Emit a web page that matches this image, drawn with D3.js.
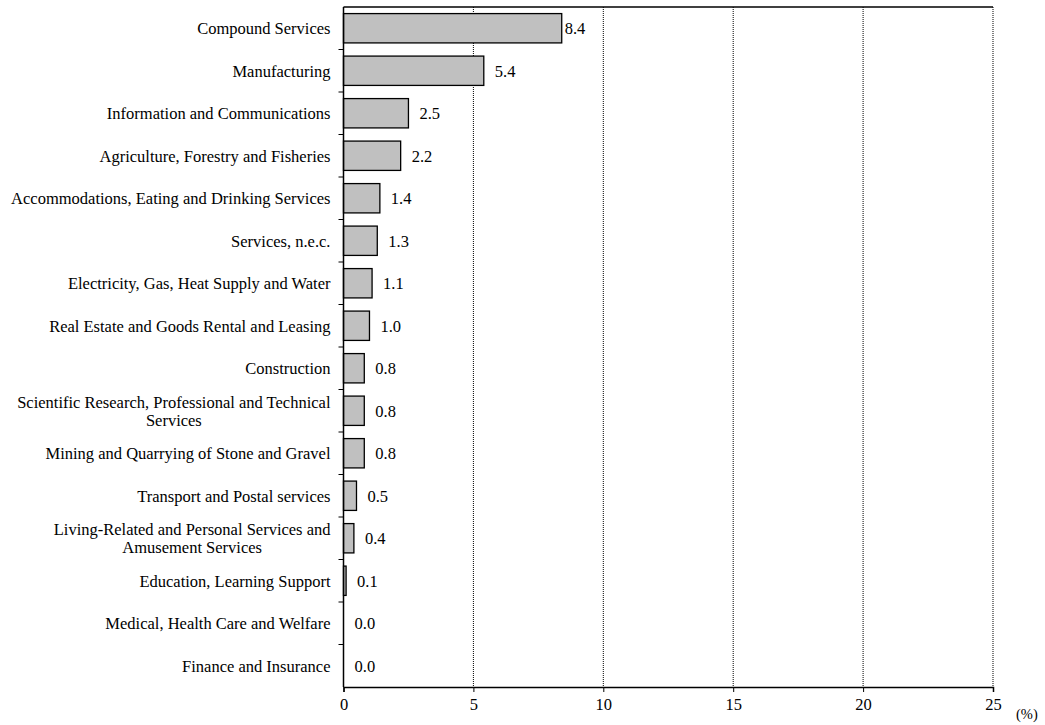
<!DOCTYPE html>
<html>
<head>
<meta charset="utf-8">
<script src="https://cdn.jsdelivr.net/npm/d3@7"></script>
<style>
  body { margin: 0; background: #fff; }
  svg text { font-family: "Liberation Serif", "Times New Roman", serif; fill: #000; }
</style>
</head>
<body>
<script>
// categories top to bottom
var categories = [
  "Compound Services",
  "Manufacturing",
  "Information and Communications",
  "Agriculture, Forestry and Fisheries",
  "Accommodations, Eating and Drinking Services",
  "Services, n.e.c.",
  "Electricity, Gas, Heat Supply and Water",
  "Real Estate and Goods Rental and Leasing",
  "Construction",
  "Scientific Research, Professional and Technical|Services",
  "Mining and Quarrying of Stone and Gravel",
  "Transport and Postal services",
  "Living-Related and Personal Services and|Amusement Services",
  "Education, Learning Support",
  "Medical, Health Care and Welfare",
  "Finance and Insurance"
];
var values = [8.4, 5.4, 2.5, 2.2, 1.4, 1.3, 1.1, 1.0, 0.8, 0.8, 0.8, 0.5, 0.4, 0.1, 0.0, 0.0];
var xTicks = [0, 5, 10, 15, 20, 25];

var width = 1045, height = 725;
var margin = {top: 7, right: 52, bottom: 38, left: 343.5};
var innerW = width - margin.left - margin.right,
    innerH = height - margin.top - margin.bottom;
var fs = "16.5px";

var data = categories.map(function(c, i) { return {name: c, value: values[i]}; });

var svg = d3.select("body").append("svg")
    .attr("width", width)
    .attr("height", height);

var g = svg.append("g")
    .attr("transform", "translate(" + margin.left + "," + margin.top + ")");

var x = d3.scaleLinear().domain([0, 25]).range([0, innerW]);
var y = d3.scaleBand().domain(categories).range([0, innerH]).paddingInner(0.31).paddingOuter(0.155);

// dotted gridlines
g.selectAll(".grid")
    .data(xTicks.slice(1))
    .enter().append("line")
    .attr("class", "grid")
    .attr("x1", function(d) { return x(d); })
    .attr("x2", function(d) { return x(d); })
    .attr("y1", 0)
    .attr("y2", innerH)
    .style("stroke", "#000")
    .style("stroke-width", 1)
    .style("stroke-dasharray", "1,1");

// top border
g.append("line")
    .attr("x1", 0).attr("x2", innerW)
    .attr("y1", 0).attr("y2", 0)
    .style("stroke", "#000").style("stroke-width", 1.5);

// bars
g.selectAll(".bar")
    .data(data)
    .enter().append("rect")
    .attr("class", "bar")
    .attr("x", 0)
    .attr("y", function(d) { return y(d.name); })
    .attr("width", function(d) { return x(d.value); })
    .attr("height", y.bandwidth())
    .style("fill", "#c0c0c0")
    .style("stroke", function(d) { return d.value > 0 ? "#000" : "none"; })
    .style("stroke-width", 1.3);

// value labels
g.selectAll(".val")
    .data(data)
    .enter().append("text")
    .attr("class", "val")
    .attr("x", function(d) { return x(d.value) + (d.value > 6 ? 3 : 11); })
    .attr("y", function(d) { return y(d.name) + y.bandwidth() / 2; })
    .attr("dy", "0.35em")
    .style("font-size", fs)
    .text(function(d) { return d3.format(".1f")(d.value); });

// x axis
var xAxis = g.append("g")
    .attr("transform", "translate(0," + innerH + ")")
    .call(d3.axisBottom(x).tickValues(xTicks).tickSize(5).tickPadding(6).tickFormat(d3.format("d")));
xAxis.select(".domain").style("stroke-width", 1.5);
xAxis.selectAll("text").style("font-size", fs).style("font-family", "Liberation Serif");

// y axis: ticks between categories
var yAxisG = g.append("g");
yAxisG.append("line")
    .attr("x1", 0).attr("x2", 0)
    .attr("y1", 0).attr("y2", innerH)
    .style("stroke", "#000").style("stroke-width", 1.5);
var step = y.step();
var bounds = d3.range(1, categories.length).map(function(i) { return y(categories[i]) - y.paddingInner() * step / 2; });
yAxisG.selectAll(".ytick")
    .data(bounds)
    .enter().append("line")
    .attr("x1", -5).attr("x2", 0)
    .attr("y1", function(d) { return d; })
    .attr("y2", function(d) { return d; })
    .style("stroke", "#000").style("stroke-width", 1);

// category labels
var labelRight = -13, lh = 18;
data.forEach(function(d) {
  var lines = d.name.split("|");
  var cy = y(d.name) + y.bandwidth() / 2;
  var y0 = cy - (lines.length - 1) * lh / 2;
  var t = g.append("text")
      .style("font-size", fs)
      .attr("text-anchor", "end")
      .attr("x", labelRight)
      .attr("y", y0)
      .attr("dy", "0.35em")
      .text(lines[0]);
  // following lines centred under the first one
  var w = t.node().getComputedTextLength();
  for (var k = 1; k < lines.length; k++) {
    g.append("text")
      .style("font-size", fs)
      .attr("text-anchor", "middle")
      .attr("x", labelRight - w / 2)
      .attr("y", y0 + k * lh)
      .attr("dy", "0.35em")
      .text(lines[k]);
  }
});

// unit
svg.append("text")
    .attr("x", 1016)
    .attr("y", 719)
    .style("font-size", "14.5px")
    .text("(%)");
</script>
</body>
</html>
